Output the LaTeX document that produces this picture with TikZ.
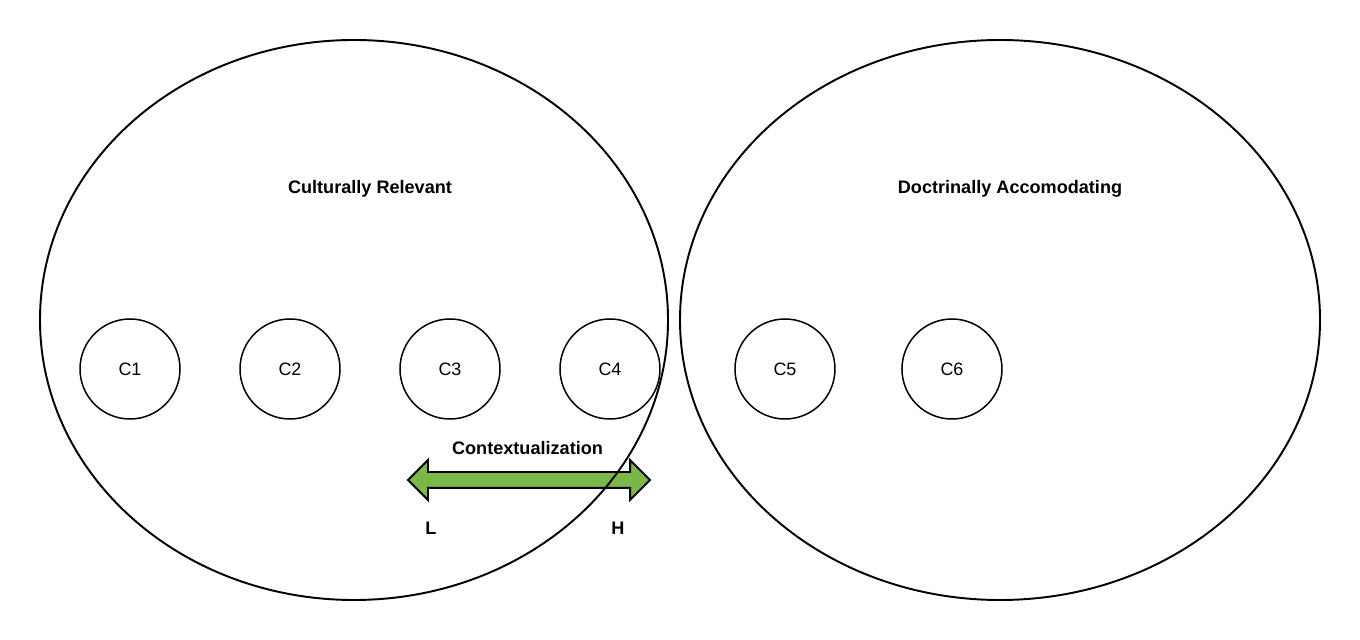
\documentclass[tikz,border=0pt]{standalone}
\usepackage{fontspec}
\setmainfont{Liberation Sans}
\usepackage{xcolor}
\usetikzlibrary{positioning,shapes.geometric,shapes.arrows}
\definecolor{arrowgreen}{RGB}{122,182,72}

\begin{document}
\begin{tikzpicture}[font=\fontsize{10.2}{12}\selectfont,
    region/.style={draw, ellipse, line width=1.1pt, minimum width=12.56cm, minimum height=11.2cm, inner sep=0pt},
    concept/.style={draw, circle, line width=0.85pt, minimum size=2cm, inner sep=0pt},
    scalearrow/.style={draw, double arrow, line width=1.1pt, fill=arrowgreen, minimum height=4.84cm,
                       inner xsep=0pt, inner ysep=0.14cm, double arrow head extend=0.24cm},
    heading/.style={font=\fontsize{10.3}{12}\selectfont\bfseries}]

    \useasboundingbox (0,0) rectangle (27.2,-12.8);

    % contextualization scale, under the ellipse outlines
    \node[scalearrow] (scale) at (10.58,-9.6) {};
    \node[heading] (ctx) at (10.55,-8.96) {Contextualization};
    \node[heading] (low) at (8.62,-10.56) {L};
    \node[heading] (high) at (12.36,-10.56) {H};

    \node[region] (cult) at (7.08,-6.4) {};
    \node[region, minimum width=12.8cm] (doct) at (20,-6.4) {};
    \node[heading] (cultlbl) at (7.4,-3.78) {Culturally Relevant};
    \node[heading] (doctlbl) at (20.2,-3.78) {Doctrinally Accomodating};

    \node[concept] (c1) at (2.6,-7.38) {C1};
    \node[concept, right=1.17cm of c1] (c2) {C2};
    \node[concept, right=1.17cm of c2] (c3) {C3};
    \node[concept, right=1.17cm of c3] (c4) {C4};
    \node[concept, right=1.47cm of c4] (c5) {C5};
    \node[concept, right=1.31cm of c5] (c6) {C6};
\end{tikzpicture}
\end{document}
